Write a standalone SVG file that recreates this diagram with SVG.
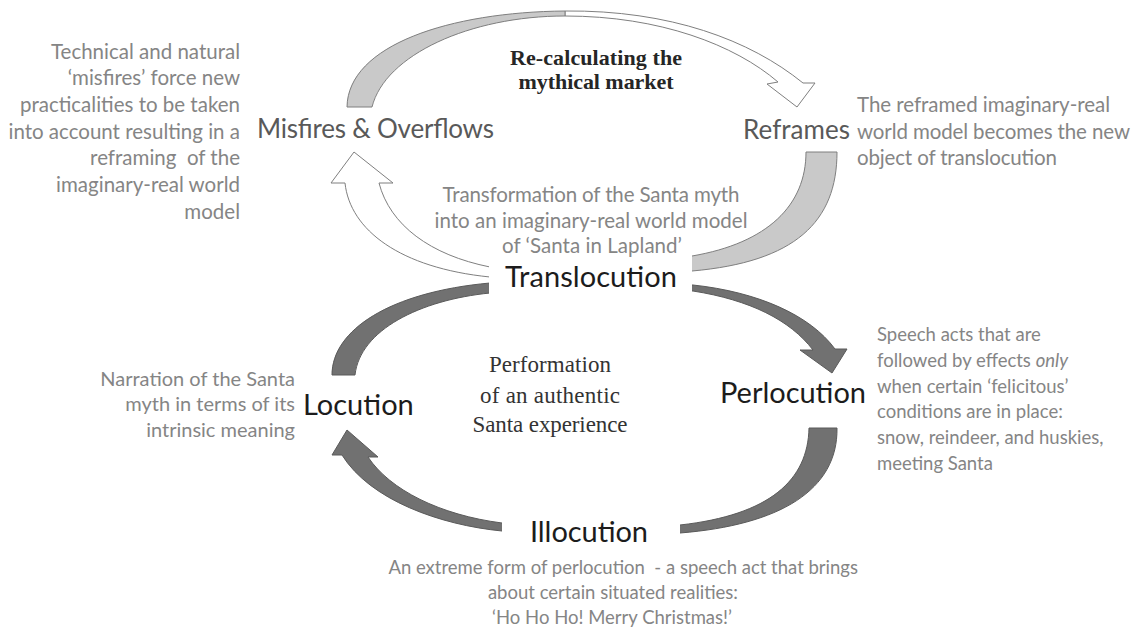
<svg xmlns="http://www.w3.org/2000/svg" width="1141" height="635" viewBox="0 0 1141 635">
<style>
.desc{font-family:Lato,"Liberation Sans",sans-serif;fill:#858585;font-size:20.5px}
.descs{font-family:Lato,"Liberation Sans",sans-serif;fill:#858585;font-size:18.5px}
.lbl{font-family:Lato,"Liberation Sans",sans-serif;fill:#595959;font-size:26px}
.main{font-family:Lato,"Liberation Sans",sans-serif;fill:#1c1c1c;font-size:29px}
.serifb{font-family:"Liberation Serif",serif;font-weight:bold;fill:#262626;font-size:22px}
.serif{font-family:"Liberation Serif",serif;fill:#333;font-size:23px}
.light{fill:#c9c9c9;stroke:#7f7f7f;stroke-width:1}
.white{fill:#fff;stroke:#7f7f7f;stroke-width:1}
.dark{fill:#717171;stroke:#5a5a5a;stroke-width:1}
</style>
<rect width="1141" height="635" fill="#fff"/>
<g id="connectors">
  <!-- top curved arrow: Misfires -> Reframes -->
  <path class="white" d="M565,11 C670,10 750,40 803,83 L815,83 L797,107 L767,84 L778,82 C735,45 660,16 565,16 Z"/>
  <path class="light" d="M347,107 C348,45 450,12 565,11 L565,16 C470,16 385,55 372,107 Z"/>
  <!-- curved up arrow: Reframes tail -> Misfires head (through Translocution) -->
  <path class="light" d="M806,152 L837,152 C837,222 795,262 692,271 L600,282 L600,268 L692,256 C768,243 806,205 806,152 Z"/>
  <path class="white" d="M345,183 C350,230 400,268 490,277 L600,287 L600,272 L490,267 C430,255 390,225 379,183 L393,183 L354,152 L331,183 Z"/>
  <!-- dark curved down arrow: Locution -> Translocution -> Perlocution -->
  <path class="dark" d="M332,375 C332,330 390,292 490,283 L693,285 C758,292 810,315 835,349 L847,349 L832,373 L800,350 L813,350 C790,320 750,300 693,291 L490,293 C420,300 360,330 355,375 Z"/>
  <!-- dark curved up arrow: Perlocution -> Illocution -> Locution -->
  <path class="dark" d="M837,428 C838,490 780,525 680,533 L502,531 C440,525 370,500 342,455 L332,455 L347,430 L378,457 L368,457 C390,490 440,515 502,523 L680,525 C770,515 808,480 809,428 Z"/>
</g>
<g id="misfires">
  <text class="desc" text-anchor="end" xml:space="preserve"><tspan x="240" y="59">Technical and natural</tspan><tspan x="240" y="85">‘misfires’ force new</tspan><tspan x="240" y="112">practicalities to be taken</tspan><tspan x="240" y="139">into account resulting in a</tspan><tspan x="240" y="165">reframing  of the</tspan><tspan x="240" y="192">imaginary-real world</tspan><tspan x="240" y="219">model</tspan></text>
  <text class="lbl" x="257" y="138" textLength="237">Misfires &amp; Overflows</text>
</g>
<g id="recalc">
  <text class="serifb" text-anchor="middle" x="596" y="65" textLength="172">Re-calculating the</text>
  <text class="serifb" text-anchor="middle" x="596" y="89" textLength="155">mythical market</text>
</g>
<g id="reframes">
  <text class="lbl" x="743" y="139" textLength="107">Reframes</text>
  <text class="desc" x="857" y="112" textLength="253">The reframed imaginary-real</text>
  <text class="desc" x="857" y="139" textLength="273">world model becomes the new</text>
  <text class="desc" x="857" y="165" textLength="200">object of translocution</text>
</g>
<g id="translocution">
  <rect x="489" y="252" width="203" height="48" fill="#fff"/>
  <text class="desc" text-anchor="middle" x="591" y="202" textLength="297">Transformation of the Santa myth</text>
  <text class="desc" text-anchor="middle" x="591" y="228" textLength="313">into an imaginary-real world model</text>
  <text class="desc" text-anchor="middle" x="592" y="253" textLength="180">of ‘Santa in Lapland’</text>
  <text class="main" x="505" y="287" textLength="172">Translocution</text>
</g>
<g id="locution">
  <text class="descs" text-anchor="end" style="font-size:20px"><tspan x="295" y="386">Narration of the Santa</tspan><tspan x="295" y="411">myth in terms of its</tspan><tspan x="295" y="437">intrinsic meaning</tspan></text>
  <text class="main" x="303" y="415">Locution</text>
</g>
<g id="performation">
  <text class="serif" text-anchor="middle" x="550" y="372" textLength="122">Performation</text>
  <text class="serif" text-anchor="middle" x="550" y="403" textLength="140">of an authentic</text>
  <text class="serif" text-anchor="middle" x="550" y="432" textLength="155">Santa experience</text>
</g>
<g id="perlocution">
  <text class="main" x="720" y="403" textLength="146">Perlocution</text>
  <text class="descs"><tspan x="877" y="341">Speech acts that are</tspan><tspan x="877" y="367">followed by effects <tspan font-style="italic">only</tspan></tspan><tspan x="877" y="393">when certain ‘felicitous’</tspan><tspan x="877" y="418">conditions are in place:</tspan><tspan x="877" y="444">snow, reindeer, and huskies,</tspan><tspan x="877" y="470">meeting Santa</tspan></text>
</g>
<g id="illocution">
  <rect x="502" y="512" width="178" height="36" fill="#fff"/>
  <text class="main" x="530" y="542" textLength="118">Illocution</text>
  <text class="descs" text-anchor="end" xml:space="preserve"><tspan x="858" y="574">An extreme form of perlocution  - a speech act that brings</tspan><tspan x="738" y="599">about certain situated realities:</tspan><tspan x="732" y="624">‘Ho Ho Ho! Merry Christmas!’</tspan></text>
</g>
</svg>
